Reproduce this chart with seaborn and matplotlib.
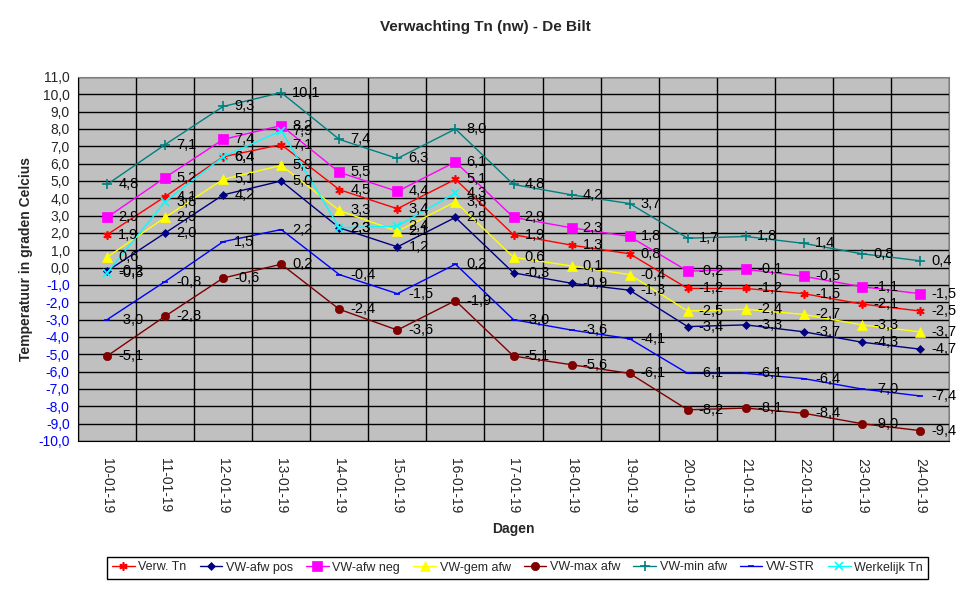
import numpy as np
import pandas as pd
import matplotlib
matplotlib.use('Agg')
import matplotlib.pyplot as plt
import seaborn as sns
from matplotlib.ticker import FixedLocator, FuncFormatter

# Data
dagen = ['10-01-19', '11-01-19', '12-01-19', '13-01-19', '14-01-19', '15-01-19',
         '16-01-19', '17-01-19', '18-01-19', '19-01-19', '20-01-19', '21-01-19',
         '22-01-19', '23-01-19', '24-01-19']
verw_tn = [1.9, 4.1, 6.4, 7.1, 4.5, 3.4, 5.1, 1.9, 1.3, 0.8, -1.2, -1.2, -1.5, -2.1, -2.5]
vw_afw_pos = [-0.2, 2.0, 4.2, 5.0, 2.3, 1.2, 2.9, -0.3, -0.9, -1.3, -3.4, -3.3, -3.7, -4.3, -4.7]
vw_afw_neg = [2.9, 5.2, 7.4, 8.2, 5.5, 4.4, 6.1, 2.9, 2.3, 1.8, -0.2, -0.1, -0.5, -1.1, -1.5]
vw_gem_afw = [0.6, 2.9, 5.1, 5.9, 3.3, 2.1, 3.8, 0.6, 0.1, -0.4, -2.5, -2.4, -2.7, -3.3, -3.7]
vw_max_afw = [-5.1, -2.8, -0.6, 0.2, -2.4, -3.6, -1.9, -5.1, -5.6, -6.1, -8.2, -8.1, -8.4, -9.0, -9.4]
vw_min_afw = [4.8, 7.1, 9.3, 10.1, 7.4, 6.3, 8.0, 4.8, 4.2, 3.7, 1.7, 1.8, 1.4, 0.8, 0.4]
vw_str = [-3.0, -0.8, 1.5, 2.2, -0.4, -1.5, 0.2, -3.0, -3.6, -4.1, -6.1, -6.1, -6.4, -7.0, -7.4]
werkelijk_tn = [-0.3, 3.8, 6.4, 7.9, 2.3, 2.4, 4.3]

series = [
    ('Verw. Tn', verw_tn, '#FF0000', (6, 2, 0), 6),
    ('VW-afw pos', vw_afw_pos, '#000080', 'D', 4.5),
    ('VW-afw neg', vw_afw_neg, '#FF00FF', 's', 7),
    ('VW-gem afw', vw_gem_afw, '#FFFF00', '^', 7),
    ('VW-max afw', vw_max_afw, '#800000', 'o', 6),
    ('VW-min afw', vw_min_afw, '#008080', '+', 7),
    ('VW-STR', vw_str, '#0000FF', '_', 4),
    ('Werkelijk Tn', werkelijk_tn, '#00FFFF', 'x', 6),
]

sns.set_style('white')
plt.rcParams['font.family'] = ['Liberation Sans', 'DejaVu Sans']

fig = plt.figure(figsize=(9.76, 5.98), dpi=100)
ax = fig.add_axes([78 / 976, 1 - 441 / 598, 871 / 976, 364 / 598])
ax.set_facecolor('#C0C0C0')

for name, vals, color, marker, ms in series:
    x = np.arange(len(vals))
    df = pd.DataFrame({'dag': x, 'temp': vals})
    thin = marker in ('+', 'x', '_', (6, 2, 0))
    sns.lineplot(data=df, x='dag', y='temp', ax=ax, color=color, marker=marker,
                 markersize=ms, markeredgecolor=color, markeredgewidth=1.2 if thin else 0.5,
                 linewidth=1, label=name, zorder=3)
    for xi, yi in zip(x, vals):
        ax.annotate(f'{yi:.1f}'.replace('.', ','), (xi, yi), xytext=(8, 0),
                    textcoords='offset points', ha='left', va='center',
                    fontsize=10.5, color='black', annotation_clip=False, zorder=4)

ax.set_xlim(-0.5, len(dagen) - 0.5)
ax.set_ylim(-10, 11)

ax.xaxis.set_major_locator(FixedLocator(np.arange(len(dagen))))
ax.set_xticklabels(dagen, rotation=-90, fontsize=10)
ax.xaxis.set_minor_locator(FixedLocator(np.arange(len(dagen) + 1) - 0.5))
ax.tick_params(axis='x', which='major', length=0, pad=12)
ax.tick_params(axis='x', which='minor', length=4, color='black', direction='out')

ax.set_yticks(np.arange(-10, 12, 1))
ax.yaxis.set_major_formatter(FuncFormatter(lambda v, p: f'{v:.1f}'.replace('.', ',')))
ax.tick_params(axis='y', length=4, color='black', direction='out', labelsize=10, pad=2)
for lbl, v in zip(ax.get_yticklabels(), np.arange(-10, 12, 1)):
    if v < 0:
        lbl.set_color('#0000FF')

ax.grid(axis='y', which='major', color='black', linewidth=1)
ax.grid(axis='x', which='minor', color='black', linewidth=1)
ax.grid(axis='x', which='major', visible=False)
ax.set_axisbelow(True)

for side in ('top', 'right'):
    ax.spines[side].set_color('#808080')
for side in ('left', 'bottom'):
    ax.spines[side].set_color('black')

ax.set_xlabel('Dagen', fontsize=10, fontweight='bold', labelpad=6)
ax.set_ylabel('Temperatuur in graden Celcius', fontsize=10, fontweight='bold', labelpad=4)
fig.text(485 / 976, 1 - 27 / 598, 'Verwachting Tn (nw) - De Bilt', ha='center', va='center',
         fontsize=11, fontweight='bold')

ax.get_legend().remove()
handles, labels = ax.get_legend_handles_labels()
leg = fig.legend(handles, labels, ncol=8, loc='center',
                 bbox_to_anchor=(107 / 976, 8 / 598, 821 / 976, 45 / 598), mode='expand',
                 borderaxespad=0, fancybox=False, edgecolor='black', framealpha=1,
                 fontsize=9, handlelength=1.8, handletextpad=0.3, columnspacing=0.6)
leg.get_frame().set_linewidth(1)

fig.savefig('out.png', dpi=100)
